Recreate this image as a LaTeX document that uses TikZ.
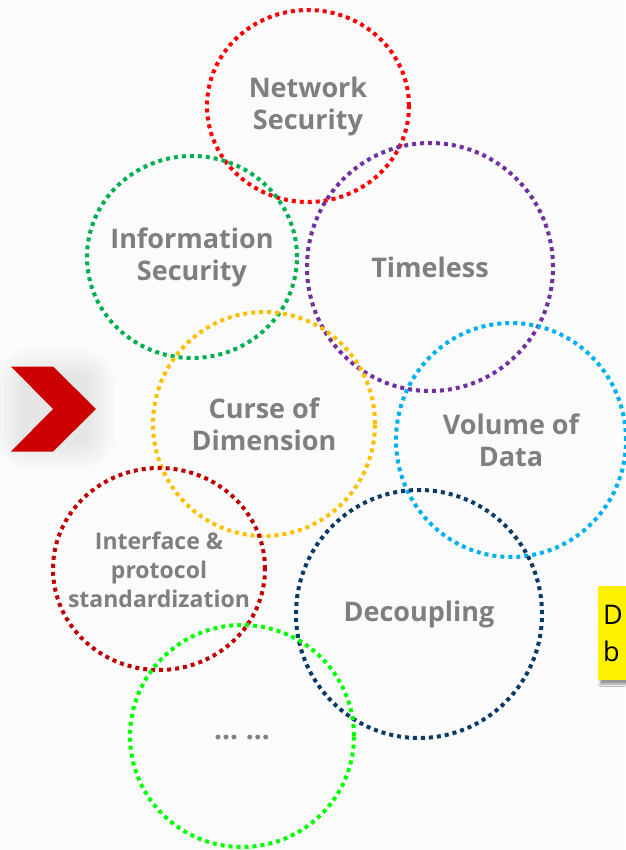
\documentclass[tikz,border=0pt]{standalone}
\usepackage{fontspec}
\setmainfont{Open Sans}
\usetikzlibrary{shapes.geometric,shadows.blur}
\definecolor{labelgray}{HTML}{7F7F7F}
\definecolor{netred}{HTML}{FF0000}
\definecolor{infogreen}{HTML}{00B050}
\definecolor{timepurple}{HTML}{7030A0}
\definecolor{curseorange}{HTML}{FFC000}
\definecolor{volblue}{HTML}{00B0F0}
\definecolor{ifacered}{HTML}{C00000}
\definecolor{decnavy}{HTML}{0B3A66}
\definecolor{moregreen}{HTML}{00FF00}
\definecolor{chevred}{HTML}{CC0000}
\tikzset{
  ring/.style={ellipse, draw=#1, line width=4pt, dash pattern=on 4pt off 4pt,
    inner sep=0pt},
  ringtext/.style={align=center, text=labelgray, inner sep=0pt,
    font=\fontsize{27}{32}\selectfont\bfseries},
  smallringtext/.style={ringtext, font=\fontsize{23}{29}\selectfont\bfseries},
  notebox/.style={fill=yellow, draw=none, anchor=north west, align=left,
    font=\fontsize{27}{40}\selectfont, text=black, inner sep=0pt,
    text width=80pt, minimum height=94pt,
    blur shadow={shadow xshift=2pt, shadow yshift=-4pt, shadow blur steps=6}},
}
\begin{document}
\begin{tikzpicture}[x=1pt,y=-1pt]
  % backdrop
  \fill[white!98.5!black] (0,0) rectangle (625,850);
  \useasboundingbox (0,0) rectangle (625,850);

  % soft halo behind the chevron
  \foreach \g in {26,22,18,14,10,6,2}{
    \fill[black, opacity=0.011, rounded corners=\g pt+8pt]
      (22-\g,375-\g) rectangle (88+\g,443+\g);
  }
  % chevron marker
  \fill[chevred] (11,366.5) coordinate (c1) -- (53,366.5) -- (96,409)
    -- (53,451.5) -- (11,451.5) -- (53,409) -- cycle;

  % note box at the right edge
  \node[notebox] (note) at (598,586)
    {\hspace*{5pt}D\\[-3pt]\hspace*{5pt}b};

  % topic rings
  \node[ring=netred, minimum width=202pt, minimum height=192pt] (net) at (308,106) {};
  \node[ring=infogreen, minimum width=210pt, minimum height=202pt] (info) at (192,257) {};
  \node[ring=timepurple, minimum width=246pt, minimum height=248pt] (time) at (430,267) {};
  \node[ring=curseorange, minimum width=222pt, minimum height=224pt] (curse) at (264,424) {};
  \node[ring=volblue, minimum width=230pt, minimum height=234pt] (vol) at (511,440) {};
  \node[ring=ifacered, minimum width=212pt, minimum height=202pt] (iface) at (159,569) {};
  \node[ring=decnavy, minimum width=246pt, minimum height=248pt] (dec) at (419,614) {};
  \node[ring=moregreen, minimum width=224pt, minimum height=222pt] (more) at (242,736) {};

  % ring labels
  \node[ringtext] (netlbl) at (net.center) {Network\\Security};
  \node[ringtext] (infolbl) at (info.center) {Information\\Security};
  \node[ringtext] (timelbl) at (time.center) {Timeless};
  \node[ringtext] (curselbl) at (curse.center) {Curse of\\Dimension};
  \node[ringtext] (vollbl) at (vol.center) {Volume of\\Data};
  \node[smallringtext] (ifacelbl) at ([yshift=-1pt]iface.center) {Interface \&\\protocol\\standardization};
  \node[ringtext] (declbl) at (dec.center) {Decoupling};
  \node[text=labelgray, font=\fontsize{28}{30}\selectfont\bfseries, inner sep=0pt]
    (dots) at ([yshift=-2pt]more.center) {…\;…};
\end{tikzpicture}
\end{document}
